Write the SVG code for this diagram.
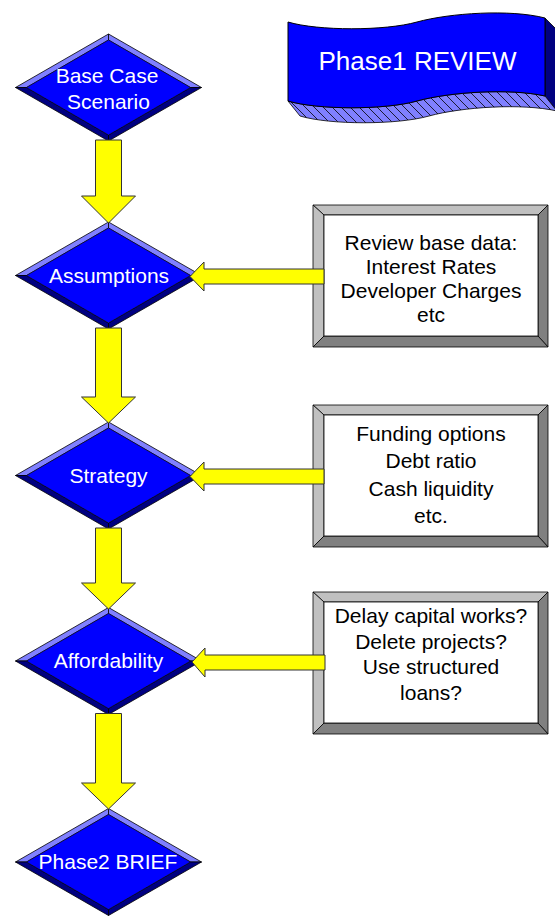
<svg xmlns="http://www.w3.org/2000/svg" xmlns:xlink="http://www.w3.org/1999/xlink" width="555" height="917" viewBox="0 0 555 917">
<style>
.lt{fill:#8080ff;stroke:#000;stroke-width:0.8}
.dk{fill:#000080;stroke:#000;stroke-width:0.8}
.in{fill:#0000ff;stroke:#000;stroke-width:0.6}
.bl{fill:#c0c0c0;stroke:#000;stroke-width:0.8}
.bd{fill:#808080;stroke:#000;stroke-width:0.8}
.bw{fill:#fff;stroke:#000;stroke-width:0.8}
.dt{font-family:"Liberation Sans",Arial,sans-serif;font-size:21px;fill:#fff;text-anchor:middle}
.bt{font-family:"Liberation Sans",Arial,sans-serif;font-size:21px;fill:#000;text-anchor:middle}
.ar{fill:#ffff00;stroke:#333;stroke-width:1;stroke-linejoin:miter}
</style>
<defs>
<g id="dia">
<polygon class="lt" points="-93,0 0,-53.5 0,-47.5 -82,0"/>
<polygon class="lt" points="0,-53.5 93,0 82,0 0,-47.5"/>
<polygon class="dk" points="93,0 0,53.5 0,47.5 82,0"/>
<polygon class="dk" points="0,53.5 -93,0 -82,0 0,47.5"/>
<polygon class="in" points="0,-47.5 82,0 0,47.5 -82,0"/>
</g>
<g id="box">
<polygon class="bl" points="0,0 235,0 225,10 11,10"/>
<polygon class="bl" points="0,0 11,10 11,131 0,142"/>
<polygon class="bd" points="235,0 235,142 225,131 225,10"/>
<polygon class="bd" points="0,142 11,131 225,131 235,142"/>
<rect class="bw" x="11" y="10" width="214" height="121"/>
</g>
<pattern id="hatch" patternUnits="userSpaceOnUse" width="9" height="9">
<rect width="9" height="9" fill="#8080ff"/>
<path d="M0,0 L9,9 M-1,8 L1,10 M8,-1 L10,1" stroke="#000" stroke-width="0.8"/>
</pattern>
</defs>

<g id="banner">
<polygon points="545,18 557,30 557,111 545,96" fill="#000080" stroke="#000" stroke-width="0.8"/>
<path d="M288,101 C318,110 385,110 417,101 C450,92 510,88 545,96 L557,111 C522,103 462,107 429,116 C397,125 330,125 300,116 Z" fill="url(#hatch)" stroke="#000" stroke-width="0.8"/>
<path d="M288,22 C318,31 385,31 417,22 C450,13 510,9 545,18 L545,96 C510,88 450,92 417,101 C385,110 318,110 288,101 Z" fill="#0000ff" stroke="#000" stroke-width="1"/>
<text x="417.5" y="70" font-family="Liberation Sans, Arial, sans-serif" font-size="26" fill="#fff" text-anchor="middle">Phase1 REVIEW</text>
</g>

<g id="box-review">
<use xlink:href="#box" x="313" y="205"/>
<text class="bt" x="431" y="250">Review base data:</text>
<text class="bt" x="431" y="274">Interest Rates</text>
<text class="bt" x="431" y="298">Developer Charges</text>
<text class="bt" x="431" y="322">etc</text>
</g>
<g id="box-funding">
<use xlink:href="#box" x="313" y="405"/>
<text class="bt" x="431" y="441">Funding options</text>
<text class="bt" x="431" y="468">Debt ratio</text>
<text class="bt" x="431" y="496">Cash liquidity</text>
<text class="bt" x="431" y="523">etc.</text>
</g>
<g id="box-delay">
<use xlink:href="#box" x="313" y="592"/>
<text class="bt" x="431" y="623">Delay capital works?</text>
<text class="bt" x="431" y="648.5">Delete projects?</text>
<text class="bt" x="431" y="674">Use structured</text>
<text class="bt" x="431" y="699.5">loans?</text>
</g>

<g id="node-base">
<use xlink:href="#dia" transform="translate(108.5,87.5)"/>
<text class="dt" x="107" y="83">Base Case</text>
<text class="dt" x="108.5" y="109">Scenario</text>
</g>
<g id="node-assumptions">
<use xlink:href="#dia" transform="translate(108.5,275.5)"/>
<text class="dt" x="109" y="283">Assumptions</text>
</g>
<g id="node-strategy">
<use xlink:href="#dia" transform="translate(108.5,475.5)"/>
<text class="dt" x="108.5" y="483">Strategy</text>
</g>
<g id="node-affordability">
<use xlink:href="#dia" transform="translate(108.5,661)"/>
<text class="dt" x="108.5" y="668">Affordability</text>
</g>
<g id="node-phase2">
<use xlink:href="#dia" transform="translate(108.5,862)"/>
<text class="dt" x="108" y="869">Phase2 BRIEF</text>
</g>

<g id="connectors">
<path class="ar" d="M95.5,140 L121.5,140 L121.5,196 L135.5,196 L108.5,223 L81.5,196 L95.5,196 Z"/>
<path class="ar" d="M95.5,328 L121.5,328 L121.5,397 L135.5,397 L108.5,423 L81.5,397 L95.5,397 Z"/>
<path class="ar" d="M95.5,528 L121.5,528 L121.5,583 L135.5,583 L108.5,609 L81.5,583 L95.5,583 Z"/>
<path class="ar" d="M95.5,713.5 L121.5,713.5 L121.5,783 L135.5,783 L108.5,809 L81.5,783 L95.5,783 Z"/>
<path class="ar" d="M324,269 L204,269 L204,262 L190,276.5 L204,291 L204,284 L324,284 Z"/>
<path class="ar" d="M324,469 L204,469 L204,462 L190,476.5 L204,491 L204,484 L324,484 Z"/>
<path class="ar" d="M325,655 L205,655 L205,648 L192,662 L205,677 L205,670 L325,670 Z"/>
</g>
</svg>
